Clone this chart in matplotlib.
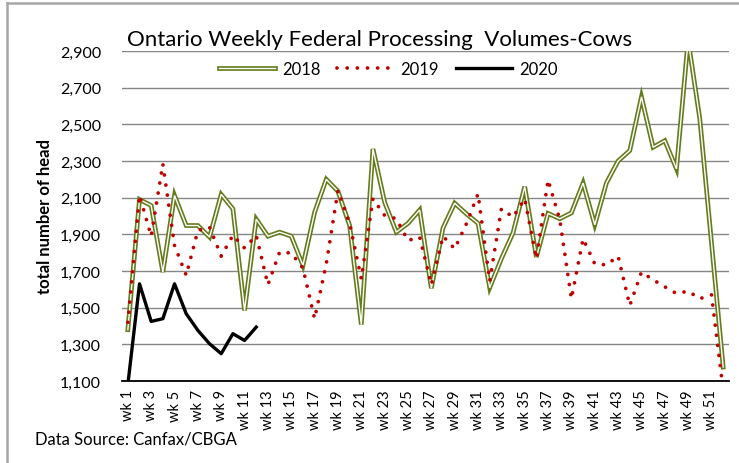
import numpy as np
import matplotlib
matplotlib.use("Agg")
import matplotlib.pyplot as plt
from matplotlib.lines import Line2D

plt.rcParams['font.family'] = ['Lato', 'DejaVu Sans']

weeks = list(range(1, 53))
week_labels = ["wk %d" % w if w % 2 == 1 else "" for w in weeks]

vol_2018 = [1380, 2090, 2057, 1694, 2112, 1948, 1948, 1885, 2118, 2039,
            1485, 1983, 1890, 1912, 1890, 1730, 2020, 2200, 2135, 1948,
            1408, 2366, 2075, 1912, 1960, 2033, 1606, 1935, 2070, 2012,
            1960, 1609, 1767, 1908, 2160, 1776, 2014, 1985, 2017, 2180,
            1952, 2180, 2300, 2357, 2650, 2375, 2411, 2257, 2960, 2530,
            1855, 1176]

vol_2019 = [1420, 2112, 1890, 2284, 1839, 1676, 1921, 1939, 1781, 1895,
            1825, 1894, 1625, 1803, 1798, 1716, 1440, 1739, 2139, 1960,
            1658, 2094, 2003, 1985, 1866, 1885, 1625, 1890, 1821, 1957,
            2121, 1645, 2039, 1994, 2094, 1767, 2197, 1981, 1549, 1876,
            1739, 1733, 1781, 1512, 1694, 1652, 1614, 1577, 1590, 1549,
            1570, 1050]

weeks_2020 = list(range(1, 13))
vol_2020 = [1080, 1630, 1425, 1440, 1630, 1467, 1376, 1303, 1249, 1358,
            1321, 1394]

olive = "#647c1c"
red = "#c00000"

fig = plt.figure(figsize=(7.39, 4.64), dpi=100)
ax = fig.add_axes([122 / 739, 1 - 382 / 464, 607 / 739, 330 / 464])

# 2018 drawn as a double line (thick olive with a thin white core)
l18a, = ax.plot(weeks, vol_2018, color=olive, lw=3.4, solid_joinstyle="miter", zorder=3)
l18b, = ax.plot(weeks, vol_2018, color="white", lw=1.0, solid_joinstyle="miter", zorder=4)
l19, = ax.plot(weeks, vol_2019, color=red, lw=2.7, linestyle=(0, (0.01, 2.7)),
               dash_capstyle="round", zorder=5)
l20, = ax.plot(weeks_2020, vol_2020, color="black", lw=2.4, zorder=6)

ax.set_xlim(0.5, 52.5)
ax.set_ylim(1100, 2900)
ax.set_yticks(range(1100, 3000, 200))
ax.set_yticklabels(["{:,}".format(v) for v in range(1100, 3000, 200)], fontsize=11.5)
ax.set_xticks(weeks)
ax.set_xticklabels(week_labels, rotation=90, fontsize=10.5)
ax.tick_params(axis="x", length=0, pad=6)
ax.tick_params(axis="y", length=0, pad=15)
ax.grid(axis="y", color="#868686", lw=1)
ax.set_axisbelow(True)
for s in ["top", "right", "left"]:
    ax.spines[s].set_visible(False)
ax.spines["bottom"].set_color("black")
ax.spines["bottom"].set_linewidth(1.3)
ax.spines["bottom"].set_zorder(7)

ax.set_ylabel("total number of head", fontsize=12, fontweight="bold", labelpad=5)

fig.text(380 / 739, 1 - 40 / 464, "Ontario Weekly Federal Processing  Volumes-Cows",
         ha="center", va="center", fontsize=16)

fig.legend([(l18a, l18b), l19, l20], ["2018", "2019", "2020"], ncol=3,
           loc="center", bbox_to_anchor=(388 / 739, 1 - 70 / 464), frameon=False,
           fontsize=12, handlelength=3.4, columnspacing=1.0, handletextpad=0.4)

fig.text(35 / 739, 1 - 440 / 464, "Data Source: Canfax/CBGA", ha="left", va="center",
         fontsize=12)

# outer chart-area border
fig.add_artist(Line2D([7 / 739, 1], [1 - 4 / 464, 1 - 4 / 464], color="#a6a6a6", lw=1.8))
fig.add_artist(Line2D([7 / 739, 7 / 739], [0, 1 - 4 / 464], color="#a6a6a6", lw=1.8))

fig.savefig("out.png", dpi=100)
